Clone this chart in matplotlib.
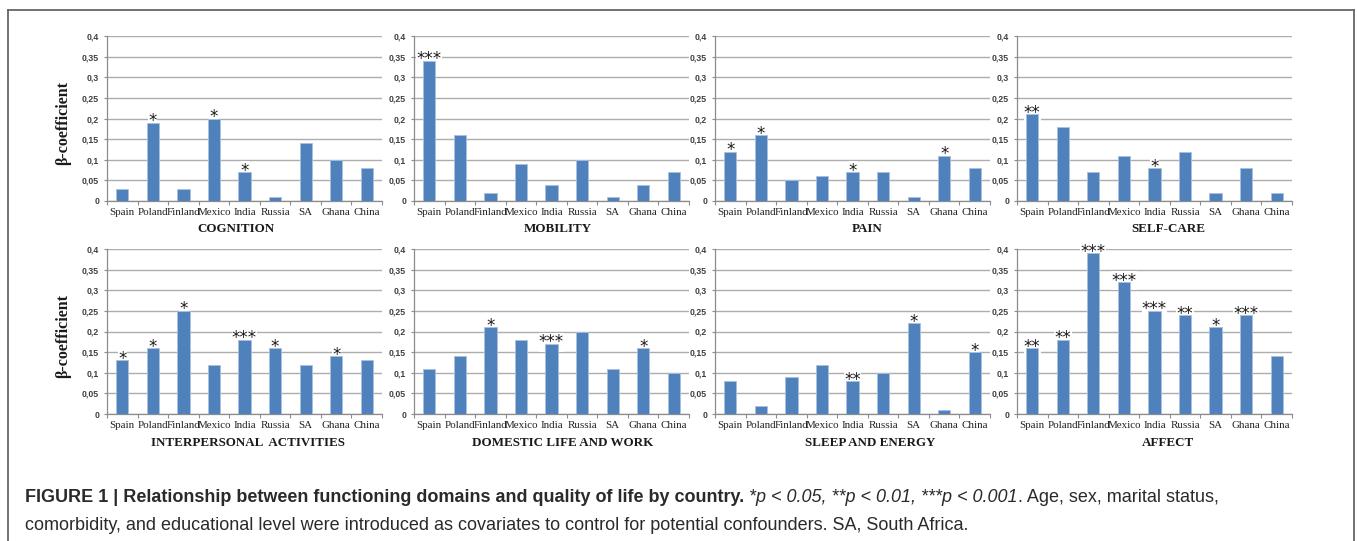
import matplotlib
matplotlib.use("Agg")
import matplotlib.pyplot as plt
from matplotlib.lines import Line2D

# ---------------- data ----------------
countries = ["Spain", "Poland", "Finland", "Mexico", "India", "Russia", "SA", "Ghana", "China"]
domains = ["COGNITION", "MOBILITY", "PAIN", "SELF-CARE",
           "INTERPERSONAL  ACTIVITIES", "DOMESTIC LIFE AND WORK", "SLEEP AND ENERGY", "AFFECT"]

cognition = [0.03, 0.19, 0.03, 0.20, 0.07, 0.01, 0.14, 0.10, 0.08]
mobility = [0.34, 0.16, 0.02, 0.09, 0.04, 0.10, 0.01, 0.04, 0.07]
pain = [0.12, 0.16, 0.05, 0.06, 0.07, 0.07, 0.01, 0.11, 0.08]
selfcare = [0.21, 0.18, 0.07, 0.11, 0.08, 0.12, 0.02, 0.08, 0.02]
interpersonal = [0.13, 0.16, 0.25, 0.12, 0.18, 0.16, 0.12, 0.14, 0.13]
domestic = [0.11, 0.14, 0.21, 0.18, 0.17, 0.20, 0.11, 0.16, 0.10]
sleep = [0.08, 0.02, 0.09, 0.12, 0.08, 0.10, 0.22, 0.01, 0.15]
affect = [0.16, 0.18, 0.39, 0.32, 0.25, 0.24, 0.21, 0.24, 0.14]

sig_cognition = ["", "*", "", "*", "*", "", "", "", ""]
sig_mobility = ["***", "", "", "", "", "", "", "", ""]
sig_pain = ["*", "*", "", "", "*", "", "", "*", ""]
sig_selfcare = ["**", "", "", "", "*", "", "", "", ""]
sig_interpersonal = ["*", "*", "*", "", "***", "*", "", "*", ""]
sig_domestic = ["", "", "*", "", "***", "", "", "*", ""]
sig_sleep = ["", "", "", "", "**", "", "*", "", "*"]
sig_affect = ["**", "**", "***", "***", "***", "**", "*", "***", ""]

yticks = [0, 0.05, 0.1, 0.15, 0.2, 0.25, 0.3, 0.35, 0.4]
ytick_labels = ["0", "0,05", "0,1", "0,15", "0,2", "0,25", "0,3", "0,35", "0,4"]
ylabel = "β-coefficient"

values = [cognition, mobility, pain, selfcare, interpersonal, domestic, sleep, affect]
sigs = [sig_cognition, sig_mobility, sig_pain, sig_selfcare,
        sig_interpersonal, sig_domestic, sig_sleep, sig_affect]

# ---------------- layout (pixels) ----------------
W, H = 1357, 541
fig = plt.figure(figsize=(W / 100, H / 100), dpi=100)
fig.patch.set_facecolor("white")

lefts = [107, 414, 715, 1017]
width_px = 275
rows = [(36, 201), (249, 414)]  # (top px, zero px)
title_x = [[236, 558, 867, 1168], [248, 563, 870, 1168]]
title_y = [229, 443]

bar_color = "#4F81BD"
grid_color = "#ADADAD"
axis_color = "#8C8C8C"
serif = ["Liberation Serif", "DejaVu Serif"]
sans = ["Liberation Sans", "DejaVu Sans"]

for i in range(8):
    r, c = divmod(i, 4)
    top, zero = rows[r]
    ax = fig.add_axes([lefts[c] / W, (H - zero) / H, width_px / W, (zero - top) / H])
    x = list(range(len(countries)))
    ax.bar(x, values[i], width=0.4, color=bar_color, edgecolor="#A9C0DE",
           linewidth=0.6, zorder=3)
    ax.set_xlim(-0.5, len(countries) - 0.5)
    ax.set_ylim(0, 0.4)
    ax.set_yticks(yticks)
    ax.set_yticklabels(ytick_labels, fontfamily=sans, fontsize=6.3,
                       fontweight="bold", color="#404040")
    ax.set_xticks(x)
    ax.set_xticklabels(countries, fontfamily=serif, fontsize=7.9, color="#222222")
    ax.set_xticks([k - 0.5 for k in range(len(countries) + 1)], minor=True)
    ax.tick_params(axis="x", which="major", length=0, pad=5.2)
    ax.tick_params(axis="x", which="minor", length=3, direction="out",
                   color=axis_color, width=0.8)
    ax.tick_params(axis="y", length=2.5, direction="out", color=axis_color,
                   width=0.8, pad=3.2)
    ax.grid(axis="y", color=grid_color, linewidth=1.0, zorder=0)
    ax.set_axisbelow(True)
    for s in ["top", "right"]:
        ax.spines[s].set_visible(False)
    for s in ["left", "bottom"]:
        ax.spines[s].set_color(axis_color)
        ax.spines[s].set_linewidth(0.9)
    ax.set_facecolor("none")

    for k, (v, s) in enumerate(zip(values[i], sigs[i])):
        if s:
            ax.annotate(s, (k, v), xytext=(0, -2.6), textcoords="offset points",
                        ha="center", va="baseline", fontfamily="DejaVu Sans",
                        fontsize=12, color="#1a1a1a", zorder=2.5,
                        bbox=dict(facecolor="white", edgecolor="none", pad=0.2))

    fig.text(title_x[r][c] / W, 1 - title_y[r] / H, domains[i], ha="center",
             va="center", fontfamily=serif, fontweight="bold", fontsize=9.4,
             color="#1a1a1a")
    if c == 0:
        ax.set_ylabel(ylabel, fontfamily=serif, fontweight="bold", fontsize=11.5,
                      color="#1a1a1a")
        ax.yaxis.set_label_coords((71 - lefts[c]) / width_px, 0.47)

# ---------------- frame ----------------
fc = "#666666"
fig.add_artist(Line2D([8 / W, 8 / W], [0, 1 - 10 / H], transform=fig.transFigure,
                      color=fc, linewidth=1.3))
fig.add_artist(Line2D([8 / W, 1354 / W], [1 - 10 / H, 1 - 10 / H],
                      transform=fig.transFigure, color=fc, linewidth=1.3))
fig.add_artist(Line2D([1354 / W, 1354 / W], [0, 1 - 10 / H],
                      transform=fig.transFigure, color=fc, linewidth=1.3))

# ---------------- caption ----------------
renderer = fig.canvas.get_renderer()
cap_color = "#2a2a2a"
cap_size = 13.0


def put(xpx, ypx, s, **kw):
    t = fig.text(xpx / W, 1 - ypx / H, s, ha="left", va="center",
                 fontfamily=sans, fontsize=cap_size, color=cap_color, **kw)
    bb = t.get_window_extent(renderer=renderer)
    return bb.x1


xp = 25
xp = put(xp, 498, "FIGURE 1 | Relationship between functioning domains and quality of life by country.",
         fontweight="bold")
xp = put(xp, 498, " *p < 0.05, **p < 0.01, ***p < 0.001", fontstyle="italic")
xp = put(xp, 498, ". Age, sex, marital status,")
put(25, 526, "comorbidity, and educational level were introduced as covariates to control "
             "for potential confounders. SA, South Africa.")

fig.savefig("out.png", dpi=100, facecolor="white")
